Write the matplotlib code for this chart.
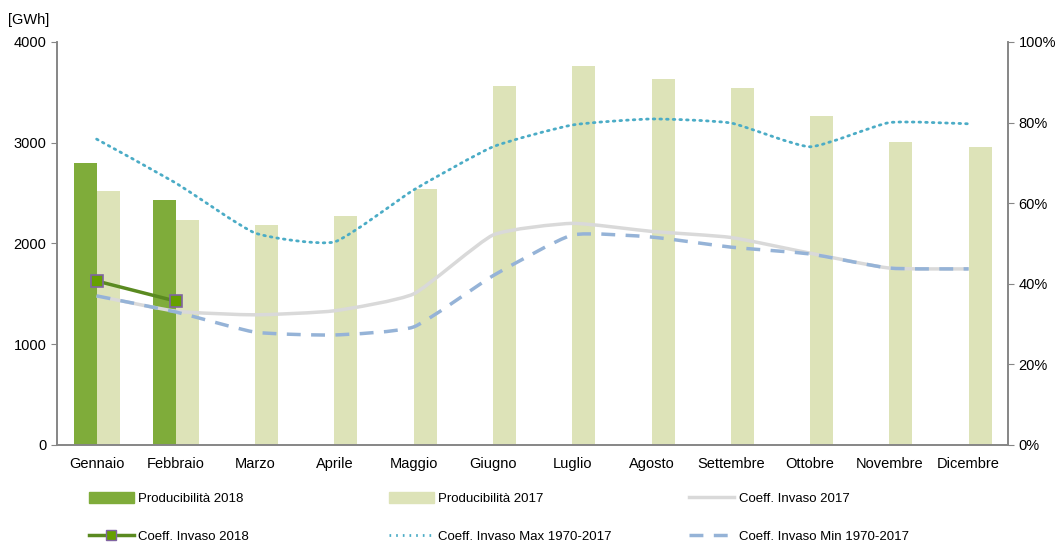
import numpy as np
import matplotlib
matplotlib.use('Agg')
import matplotlib.pyplot as plt
from matplotlib.path import Path
from matplotlib.patches import PathPatch
from matplotlib.lines import Line2D
from matplotlib.patches import Patch
from matplotlib.ticker import FuncFormatter

plt.rcParams['font.family'] = ['Liberation Sans', 'DejaVu Sans']

# dati
mesi = ['Gennaio', 'Febbraio', 'Marzo', 'Aprile', 'Maggio', 'Giugno', 'Luglio',
        'Agosto', 'Settembre', 'Ottobre', 'Novembre', 'Dicembre']
prod_2018 = [2800, 2430]
prod_2017 = [2520, 2230, 2180, 2270, 2540, 3560, 3760, 3630, 3540, 3270, 3010, 2960]
coeff_2018 = [40.7, 35.7]
coeff_2017 = [37.0, 33.2, 32.3, 33.3, 37.5, 52.1, 55.0, 53.0, 51.5, 47.6, 43.9, 43.7]
coeff_max = [75.9, 65.0, 52.6, 50.4, 63.3, 74.0, 79.4, 80.9, 79.9, 74.0, 80.0, 79.7]
coeff_min = [37.0, 33.0, 28.0, 27.3, 29.3, 42.0, 52.1, 51.6, 49.1, 47.4, 43.9, 43.7]


def curva_liscia(xs, ys, k=12.0):
    # bezier con poca tensione, come le linee smussate di Excel
    pts = np.column_stack([xs, ys]).astype(float)
    n = len(pts)
    verts = [pts[0]]
    codes = [Path.MOVETO]
    for i in range(n - 1):
        p0 = pts[i - 1] if i > 0 else pts[i]
        p1 = pts[i]
        p2 = pts[i + 1]
        p3 = pts[i + 2] if i + 2 < n else pts[i + 1]
        c1 = p1 + (p2 - p0) / k
        c2 = p2 - (p3 - p1) / k
        verts += [c1, c2, p2]
        codes += [Path.CURVE4] * 3
    return Path(verts, codes)


fig = plt.figure(figsize=(10.57, 5.44), dpi=100)
ax = fig.add_axes([0.0539, 0.182, 0.9, 0.7408])
ax2 = ax.twinx()

x = np.arange(len(mesi))
w = 0.29
ax.bar(x[:len(prod_2018)] - w / 2, prod_2018, width=w, color='#7fac3a', zorder=2)
ax.bar(x + w / 2, prod_2017, width=w, color='#dde3b8', zorder=2)

ax.set_xlim(-0.5, 11.5)
ax.set_ylim(0, 4000)
ax.set_yticks([0, 1000, 2000, 3000, 4000])
ax.set_xticks(x)
ax.set_xticklabels(mesi)

ax2.set_ylim(0, 100)
ax2.set_yticks([0, 20, 40, 60, 80, 100])
ax2.yaxis.set_major_formatter(FuncFormatter(lambda v, p: '%d%%' % v))

stili = [
    (coeff_2017, dict(edgecolor='#d9d9d9', linewidth=2.5, linestyle='-')),
    (coeff_max, dict(edgecolor='#4bacc6', linewidth=2.0, linestyle=(0, (0.6, 1.8)), capstyle='round')),
    (coeff_min, dict(edgecolor='#95b3d7', linewidth=2.5, linestyle=(0, (4, 3)))),
]
for serie, kw in stili:
    ax2.add_patch(PathPatch(curva_liscia(x, serie), facecolor='none', zorder=3, **kw))

ax2.plot(x[:len(coeff_2018)], coeff_2018, color='#5a8a20', linewidth=2.5,
         marker='s', markersize=8, markerfacecolor='#66a000',
         markeredgecolor='#8064a2', markeredgewidth=1.2, zorder=4)

for a in (ax, ax2):
    a.spines['top'].set_visible(False)
    for s in ('left', 'right', 'bottom'):
        a.spines[s].set_color('#868686')
        a.spines[s].set_linewidth(1.2)
    a.tick_params(colors='#868686', labelcolor='black', labelsize=10.5, length=4)
ax.tick_params(axis='x', length=0, pad=9)

fig.text(0.008, 0.955, '[GWh]', fontsize=10.5)

# legenda in tre colonne
voci = [
    [(Patch(color='#7fac3a'), 'Producibilità 2018'),
     (Line2D([], [], color='#5a8a20', lw=2.5, marker='s', markersize=7,
             markerfacecolor='#66a000', markeredgecolor='#8064a2'), 'Coeff. Invaso 2018')],
    [(Patch(color='#dde3b8'), 'Producibilità 2017'),
     (Line2D([], [], color='#4bacc6', lw=2.0, ls=(0, (0.6, 1.8))), 'Coeff. Invaso Max 1970-2017')],
    [(Line2D([], [], color='#d9d9d9', lw=2.5), 'Coeff. Invaso 2017'),
     (Line2D([], [], color='#95b3d7', lw=2.5, ls=(0, (4, 3))), 'Coeff. Invaso Min 1970-2017')],
]
for xpos, col in zip([0.084, 0.368, 0.652], voci):
    fig.legend([h for h, _ in col], [t for _, t in col], loc='upper left',
               bbox_to_anchor=(xpos, 0.095), frameon=False, fontsize=9.5,
               handlelength=3.4, handleheight=0.9, handletextpad=0.35,
               labelspacing=1.9, borderpad=0, borderaxespad=0)

fig.savefig('out.png', dpi=100)
